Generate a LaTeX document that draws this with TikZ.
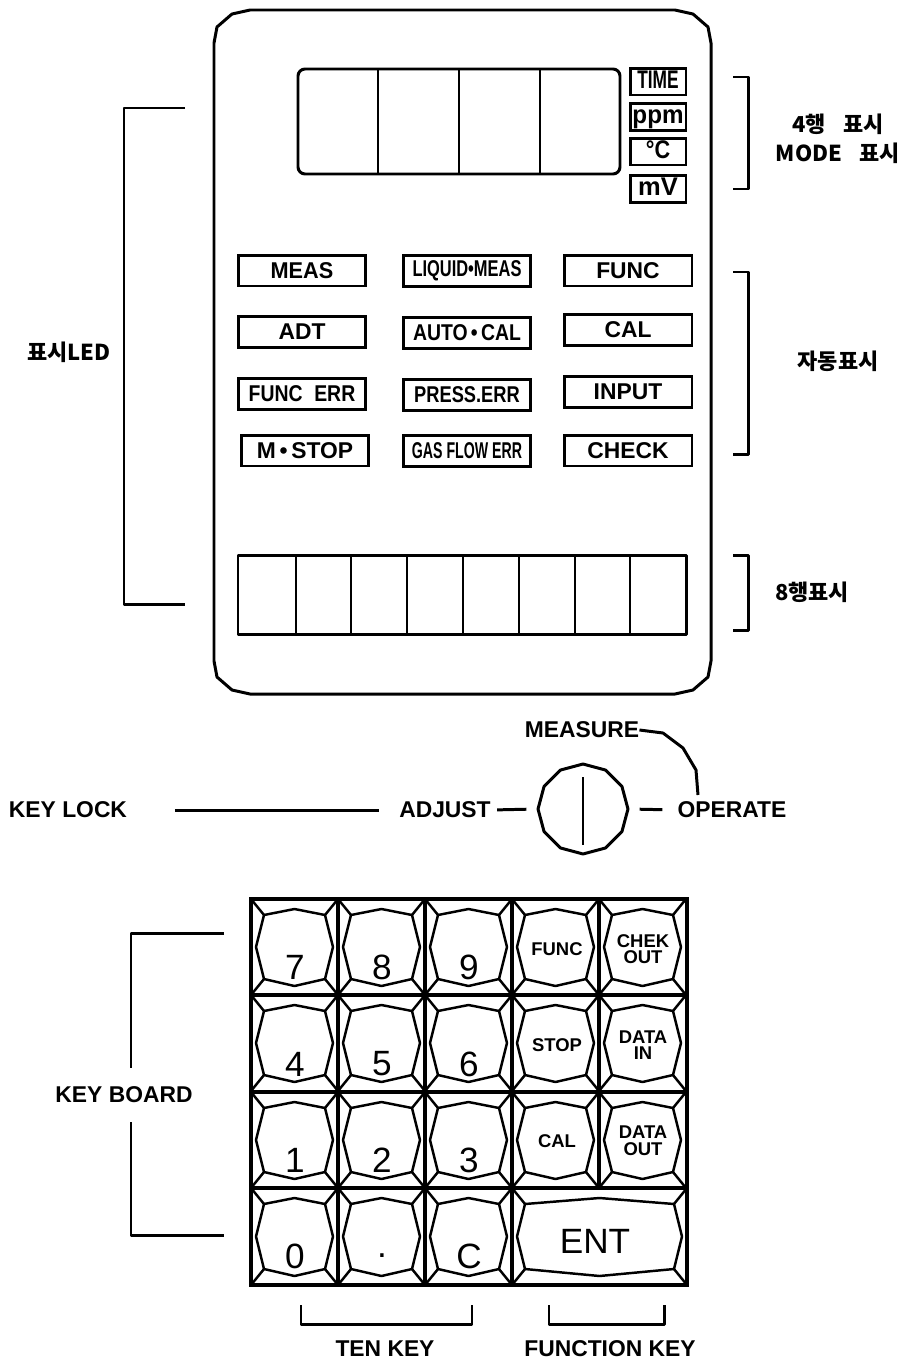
\documentclass[tikz,border=0pt]{standalone}
\usepackage{graphicx}
\usepackage{fontspec}
\setmainfont{Liberation Sans}
\newfontfamily\krfont{Noto Sans CJK KR}
\usetikzlibrary{shapes.geometric}

\tikzset{
    plate/.style={line width=1.7pt, line join=round},
    thinline/.style={line width=1.4pt, line join=round, line cap=round},
    ledbox/.style={draw, line width=1.7pt, minimum width=2.56cm, minimum height=0.62cm, inner sep=0pt, font=\fontsize{13}{13}\selectfont\bfseries},
    modebox/.style={draw, line width=1.7pt, minimum width=1.12cm, minimum height=0.54cm, inner sep=0pt, text height=10pt, text depth=2.5pt, font=\fontsize{14.5}{14.5}\selectfont\bfseries},
    caption/.style={inner sep=0pt, font=\fontsize{13}{13}\selectfont\bfseries},
    krcaption/.style={inner sep=0pt, font=\fontsize{12.5}{12.5}\selectfont\krfont\bfseries},
    digit/.style={inner sep=0pt, font=\fontsize{20}{20}\selectfont},
    fkey/.style={inner sep=0pt, align=center, font=\fontsize{10.5}{9.5}\selectfont\bfseries}
}

% one key: left, top, width, height
\newcommand{\keyshape}[4]{
    \draw[thinline] (#1+13,#2+16) -- (#1+#3/2,#2+10) -- (#1+#3-13,#2+16) -- (#1+#3-5,#2+#4/2)
        -- (#1+#3-13,#2+#4-16) -- (#1+#3/2,#2+#4-9) -- (#1+13,#2+#4-16) -- (#1+5,#2+#4/2) -- cycle;
    \draw[thinline] (#1,#2) -- (#1+13,#2+16);
    \draw[thinline] (#1+#3,#2) -- (#1+#3-13,#2+16);
    \draw[thinline] (#1+#3,#2+#4) -- (#1+#3-13,#2+#4-16);
    \draw[thinline] (#1,#2+#4) -- (#1+13,#2+#4-16);
}

\begin{document}
\begin{tikzpicture}[x=0.02cm,y=-0.02cm]
    \useasboundingbox (0,0) rectangle (902,1363);

    % panel
    \draw[plate] (214,43) -- (217,27) -- (232,14) -- (250,10) -- (675,10) -- (693,14) -- (708,27) -- (711,43)
        -- (711,661) -- (708,677) -- (693,690) -- (675,694) -- (250,694) -- (232,690) -- (217,677) -- (214,661) -- cycle;

    % 4 digit display
    \draw[plate, rounded corners=4pt] (298,69) rectangle (620,174);
    \foreach \xd in {378,459,540}
        \draw[plate] (\xd,69) -- (\xd,174);

    \node[modebox] (time) at (658,81.5) {\scalebox{.68}[1]{TIME}};
    \node[modebox] (ppm) at (658,117) {\scalebox{.95}[1]{ppm}};
    \node[modebox] (degc) at (658,151.5) {\scalebox{.85}[1]{°C}};
    \node[modebox] (mv) at (658,189) {mV};

    % LED labels
    \node[ledbox] (meas) at (302,270.5) {\scalebox{.95}[1]{MEAS}};
    \node[ledbox] (adt) at (302,332) {ADT};
    \node[ledbox] (funcerr) at (302,394) {\scalebox{.85}[1]{FUNC\hspace{0.6em}ERR}};
    \node[ledbox] (mstop) at (305,450.5) {M\,•\,STOP};
    \node[ledbox] (liquid) at (467,271) {\scalebox{.72}[1]{LIQUID•MEAS}};
    \node[ledbox] (autocal) at (467,333) {\scalebox{.85}[1]{AUTO\,•\,CAL}};
    \node[ledbox] (presserr) at (467,395) {\scalebox{.8}[1]{PRESS.ERR}};
    \node[ledbox] (gasflow) at (467,451) {\scalebox{.62}[1]{GAS FLOW ERR}};
    \node[ledbox] (func) at (628,270.5) {FUNC};
    \node[ledbox] (cal) at (628,330) {CAL};
    \node[ledbox] (input) at (628,392) {INPUT};
    \node[ledbox] (check) at (628,450.5) {CHECK};

    % 8 digit display
    \draw[plate] (238,555) rectangle (686,634);
    \foreach \xd in {296,351,407,463,519,575,630}
        \draw[plate] (\xd,555) -- (\xd,634);

    % brackets
    \coordinate (LA) at (185,108);
    \coordinate (LB) at (124,108);
    \coordinate (LC) at (124,604);
    \coordinate (LD) at (185,604);
    \draw[plate] (LA) -- (LB) -- (LC) -- (LD);
    \node[krcaption] (ledtext) at (69,352) {표시LED};

    \coordinate (RA) at (733,77);
    \coordinate (RB) at (748,77);
    \coordinate (RC) at (748,189);
    \coordinate (RD) at (733,189);
    \draw[plate] (RA) -- (RB) -- (RC) -- (RD);
    \node[krcaption] (rowfour) at (838,124) {4행\hspace{0.8em}표시};
    \node[krcaption] (modetext) at (838,153) {MODE\hspace{0.8em}표시};

    \coordinate (SA) at (733,272);
    \coordinate (SB) at (748,272);
    \coordinate (SC) at (748,454);
    \coordinate (SD) at (733,454);
    \draw[plate] (SA) -- (SB) -- (SC) -- (SD);
    \node[krcaption] (autotext) at (838,361) {자동표시};

    \coordinate (TA) at (733,555);
    \coordinate (TB) at (748,555);
    \coordinate (TC) at (748,630);
    \coordinate (TD) at (733,630);
    \draw[plate] (TA) -- (TB) -- (TC) -- (TD);
    \node[krcaption] (roweight) at (812,592) {8행표시};

    % key lock
    \node[caption] (keylock) at (68,810) {KEY LOCK};
    \node[caption] (adjust) at (445,810) {ADJUST};
    \node[caption] (operate) at (732,810) {OPERATE};
    \node[caption] (measure) at (582,730) {MEASURE};
    \node[draw, plate, regular polygon, regular polygon sides=12, shape border rotate=15, minimum size=1.8cm, inner sep=0pt] (dial) at (583,809) {};
    \draw[plate] (583,777) -- (583,845);
    \draw[plate, shorten <=0.95cm, shorten >=0.4cm] (keylock.east) -- (adjust.west);
    \draw[plate, shorten <=0.12cm, shorten >=0.2cm] (adjust.east) -- (dial.west);
    \draw[plate, shorten <=0.2cm, shorten >=0.3cm] (dial.east) -- (operate.west);
    \coordinate (MA) at (663,733);
    \coordinate (MB) at (683,748);
    \coordinate (MC) at (696,770);
    \coordinate (MD) at (698,795);
    \draw[plate] (measure.east) -- (MA) -- (MB) -- (MC) -- (MD);

    % keyboard
    \foreach \yk in {899,995,1092}
        \foreach \xk in {251,338,425,512,599}
            \keyshape{\xk}{\yk}{87}{96};
    \foreach \xk in {251,338,425}
        \keyshape{\xk}{1188}{87}{97};
    \keyshape{512}{1188}{175}{97};

    \draw[line width=2.2pt] (251,899) rectangle (687,1285);
    \foreach \xk in {338,425,512}
        \draw[line width=2.2pt] (\xk,899) -- (\xk,1285);
    \draw[line width=2.2pt] (599,899) -- (599,1188);
    \foreach \yk in {995,1092,1188}
        \draw[line width=2pt] (251,\yk) -- (687,\yk);

    \foreach \name/\xk/\yk/\keytext in {k7/295/967/7,k8/382/967/8,k9/469/967/9,k4/295/1064/4,k5/382/1064/5,k6/469/1064/6,k1/295/1160/1,k2/382/1160/2,k3/469/1160/3,k0/295/1256/0,kdot/382/1256/.,kc/469/1256/C}
        \node[digit] (\name) at (\xk,\yk) {\keytext};

    \node[fkey] (kfunc) at (557,949) {FUNC};
    \node[fkey] (kchek) at (643,949) {CHEK\\OUT};
    \node[fkey] (kstop) at (557,1045) {STOP};
    \node[fkey] (kin) at (643,1045) {DATA\\IN};
    \node[fkey] (kcal) at (557,1141) {CAL};
    \node[fkey] (kout) at (643,1141) {DATA\\OUT};
    \node[digit] (kent) at (595,1241) {ENT};

    % keyboard brackets
    \node[caption] (keyboard) at (124,1095) {KEY BOARD};
    \coordinate (KA) at (224,933);
    \coordinate (KB) at (131,933);
    \coordinate (KC) at (131,1068);
    \coordinate (KD) at (131,1122);
    \coordinate (KE) at (131,1235);
    \coordinate (KF) at (224,1235);
    \draw[plate] (KA) -- (KB) -- (KC);
    \draw[plate] (KD) -- (KE) -- (KF);

    \coordinate (NA) at (301,1305);
    \coordinate (NB) at (301,1324);
    \coordinate (NC) at (472,1324);
    \coordinate (ND) at (472,1305);
    \draw[plate] (NA) -- (NB) -- (NC) -- (ND);
    \node[caption] (tenkey) at (385,1349) {TEN KEY};

    \coordinate (FA) at (549,1305);
    \coordinate (FB) at (549,1324);
    \coordinate (FC) at (664,1324);
    \coordinate (FD) at (664,1305);
    \draw[plate] (FA) -- (FB) -- (FC) -- (FD);
    \node[caption] (functionkey) at (610,1349) {FUNCTION KEY};
\end{tikzpicture}
\end{document}
